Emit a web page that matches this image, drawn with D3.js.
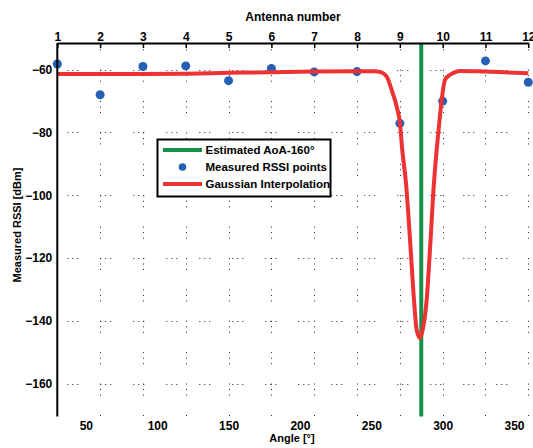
<!DOCTYPE html>
<html>
<head>
<meta charset="utf-8">
<script src="https://cdn.jsdelivr.net/npm/d3@7"></script>
<style>
  html, body { margin: 0; padding: 0; background: #fff; }
  svg { display: block; }
  text { font-family: "Liberation Sans", Arial, Helvetica, sans-serif; font-weight: bold; fill: #000; }
</style>
</head>
<body>
<svg id="chart" width="533" height="448"></svg>
<script>
// Antenna positions (angle in degrees) and their numbers
const antennaNumbers = [1, 2, 3, 4, 5, 6, 7, 8, 9, 10, 11, 12];
const antennaAngles = [30, 60, 90, 120, 150, 180, 210, 240, 270, 300, 330, 360];

// Measured RSSI at each antenna [dBm]
const measuredRssi = [-58.2, -68.0, -59.0, -58.8, -63.5, -59.6, -60.7, -60.6, -77.1, -70.0, -57.2, -64.0];

// Gaussian interpolation curve (angle, RSSI)
const curveAngles = [30, 90, 120, 150, 180, 210, 240, 252, 256, 260.8, 264.3, 267.8, 270.1, 271.7, 274.3, 277.6, 279.9, 281.8, 284.1, 286.0, 288.8, 291.1, 293.9, 295.8, 297.6, 299.3, 301.6, 304, 307.2, 312.1, 330, 360];
const curveRssi = [-61.4, -61.4, -61.3, -61.0, -60.8, -60.6, -60.5, -60.5, -60.7, -62.2, -66.5, -71.8, -77.1, -85.6, -96.1, -117.4, -133.3, -142.9, -145.5, -142.9, -133.3, -117.4, -96.1, -85.6, -77.0, -69.7, -63.3, -62.0, -61.1, -60.4, -60.6, -61.1];

// Estimated angle of arrival
const estimatedAoA = 285;

// Tick labels
const angleTicks = [50, 100, 150, 200, 250, 300, 350];
const rssiTicks = [-160, -140, -120, -100, -80, -60];

const legendLabels = ["Estimated AoA-160°", "Measured RSSI points", "Gaussian Interpolation"];

const colors = { green: "#17924a", blue: "#2560b6", red: "#ec3232" };

const svg = d3.select("#chart");
const plotLeft = 57.3, plotRight = 528.3, plotTop = 43, plotBottom = 416.5;

const x = d3.scaleLinear().domain([30, 360]).range([plotLeft, plotRight]);
const y = d3.scaleLinear().domain([-170.5, -51.5]).range([plotBottom, plotTop]);

// Dotted grid
const grid = svg.append("g").attr("stroke", "#222").attr("stroke-width", 1);
const vPeriod = Math.abs(y(-70) - y(-60));
const vOffset = vPeriod - ((y(-60) - plotTop) % vPeriod);
grid.selectAll("line.v")
  .data(antennaAngles.slice(1))
  .join("line")
  .attr("x1", d => Math.round(x(d)) + 0.5).attr("x2", d => Math.round(x(d)) + 0.5)
  .attr("y1", plotTop).attr("y2", plotBottom)
  .attr("stroke-dasharray", "1,4.5,1,4.5,1," + (vPeriod - 12).toFixed(2))
  .attr("stroke-dashoffset", vOffset);
grid.selectAll("line.h")
  .data(rssiTicks)
  .join("line")
  .attr("x1", plotLeft).attr("x2", plotRight)
  .attr("y1", d => Math.round(y(d)) + 0.5).attr("y2", d => Math.round(y(d)) + 0.5)
  .attr("stroke-dasharray", "1,4,1,4,1,22")
  .attr("stroke-dashoffset", -10);

// Estimated AoA line
svg.append("line")
  .attr("x1", x(estimatedAoA)).attr("x2", x(estimatedAoA))
  .attr("y1", plotTop).attr("y2", plotBottom)
  .attr("stroke", colors.green).attr("stroke-width", 4);

// Measured points
svg.append("g").selectAll("circle")
  .data(antennaAngles.map((a, i) => [a, measuredRssi[i]]))
  .join("circle")
  .attr("cx", d => x(d[0])).attr("cy", d => y(d[1]))
  .attr("r", 4.5).attr("fill", colors.blue);

// Gaussian interpolation curve
const line = d3.line().x(d => x(d[0])).y(d => y(d[1])).curve(d3.curveMonotoneX);
svg.append("path")
  .datum(curveAngles.map((a, i) => [a, curveRssi[i]]))
  .attr("d", line)
  .attr("fill", "none").attr("stroke", colors.red).attr("stroke-width", 4)
  .attr("stroke-linejoin", "round");

// Top axis: antenna numbers
const topAxis = d3.axisTop(x)
  .tickValues(antennaAngles)
  .tickFormat((d, i) => antennaNumbers[i])
  .tickSizeInner(-5).tickSizeOuter(0).tickPadding(2);
const gTop = svg.append("g").attr("transform", `translate(0,${plotTop})`).call(topAxis);
gTop.select(".domain").attr("stroke", "#000").attr("stroke-width", 2);
gTop.selectAll(".tick line").attr("stroke", "#000").attr("stroke-width", 1.5);
gTop.selectAll("text").attr("font-size", 12).attr("font-family", null).attr("fill", "#000");

// Left axis: RSSI
const leftAxis = d3.axisLeft(y).tickValues(rssiTicks).tickSize(0).tickPadding(5);
const gLeft = svg.append("g").attr("transform", `translate(${plotLeft},0)`).call(leftAxis);
gLeft.select(".domain").attr("d", `M0,${plotTop}V${plotBottom}`).attr("stroke", "#000").attr("stroke-width", 2);
gLeft.selectAll("text").attr("font-size", 12).attr("font-family", null).attr("fill", "#000");

// Bottom axis: angle labels only
const bottomAxis = d3.axisBottom(x).tickValues(angleTicks).tickSize(0).tickPadding(5);
const gBottom = svg.append("g").attr("transform", `translate(0,${plotBottom})`).call(bottomAxis);
gBottom.select(".domain").remove();
gBottom.selectAll("text").attr("font-size", 12).attr("font-family", null).attr("fill", "#000");

// Axis titles
svg.append("text").attr("x", 293).attr("y", 20.5).attr("text-anchor", "middle")
  .attr("font-size", 12).text("Antenna number");
svg.append("text").attr("x", 292).attr("y", 441.5).attr("text-anchor", "middle")
  .attr("font-size", 11).text("Angle [°]");
svg.append("text").attr("transform", "translate(20.5,225) rotate(-90)")
  .attr("text-anchor", "middle").attr("font-size", 11).text("Measured RSSI [dBm]");

// Legend
const lg = svg.append("g");
lg.append("rect").attr("x", 157.5).attr("y", 139.5).attr("width", 173).attr("height", 57)
  .attr("fill", "#fff").attr("stroke", "#000").attr("stroke-width", 2);
const rows = [150, 167, 184];
lg.append("line").attr("x1", 163).attr("x2", 202).attr("y1", rows[0]).attr("y2", rows[0])
  .attr("stroke", colors.green).attr("stroke-width", 4);
lg.append("circle").attr("cx", 182.5).attr("cy", rows[1]).attr("r", 3.8).attr("fill", colors.blue);
lg.append("line").attr("x1", 163).attr("x2", 202).attr("y1", rows[2]).attr("y2", rows[2])
  .attr("stroke", colors.red).attr("stroke-width", 4);
lg.selectAll("text.lab")
  .data(legendLabels)
  .join("text")
  .attr("x", 205.5).attr("y", (d, i) => rows[i]).attr("dy", "0.35em")
  .attr("font-size", 11.5).text(d => d);
</script>
</body>
</html>
